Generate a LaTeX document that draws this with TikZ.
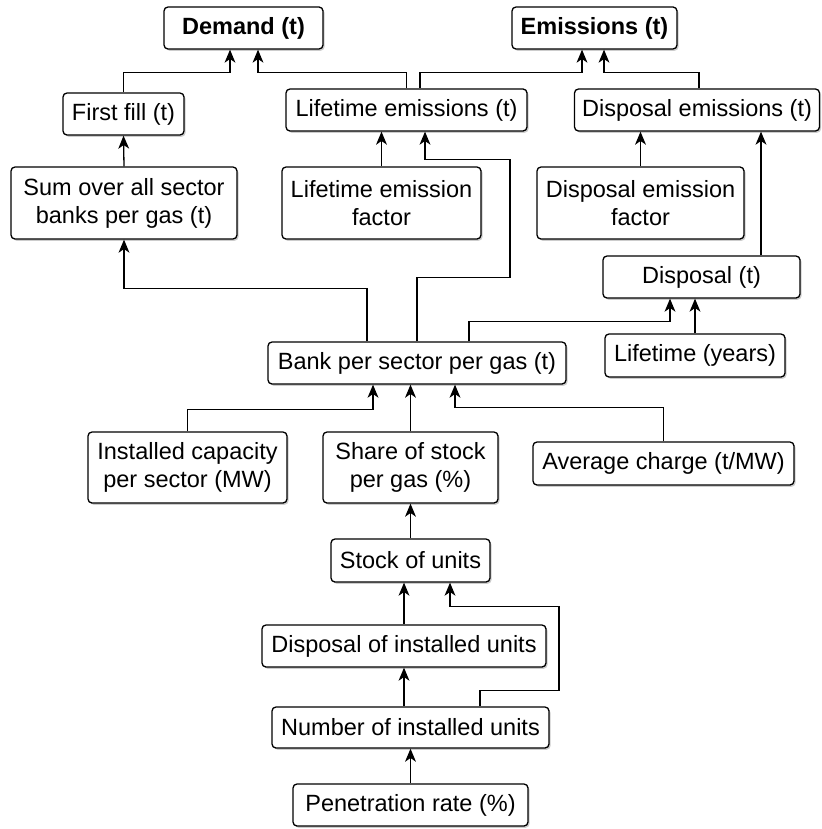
\documentclass[tikz,border=0pt]{standalone}
\usepackage{fontspec}
\setmainfont{Liberation Sans}
\usetikzlibrary{positioning,arrows.meta,shadows}
\tikzset{
  block/.style={rectangle, draw=black, fill=white, rounded corners=2pt, line width=0.65pt,
                drop shadow={shadow xshift=0.8pt, shadow yshift=-0.9pt, opacity=0.2, fill=black},
                font=\fontsize{11.75pt}{14pt}\selectfont, inner sep=0pt, align=center, minimum height=21pt},
  tall/.style={minimum height=36pt},
  head/.style={block, font=\fontsize{11.75pt}{14pt}\selectfont\bfseries},
  arr/.style={-{Stealth[length=6.5pt, width=5.4pt, inset=1.8pt]}, line width=0.65pt, draw=black},
}

\begin{document}
\begin{tikzpicture}[x=0.5pt, y=-0.5pt]
  \useasboundingbox (0,0) rectangle (821,829);
  % outputs
  \node[head, minimum width=79.5pt] (demand) at (243.5,28) {Demand (t)};
  \node[head, minimum width=82.5pt] (emis) at (594.5,28) {Emissions (t)};
  % second row
  \node[block, minimum width=60.5pt] (firstfill) at (123.5,114) {First fill (t)};
  \node[block, minimum width=120.5pt] (lifeem) at (406.5,110) {Lifetime emissions (t)};
  \node[block, minimum width=122.5pt] (dispem) at (697,110) {Disposal emissions (t)};
  % factors
  \node[block, tall, minimum width=113pt] (sumbank) at (124,203) {Sum over all sector\\banks per gas (t)};
  \node[block, tall, minimum width=99.5pt] (lifefac) at (381.5,203) {Lifetime emission\\factor};
  \node[block, tall, minimum width=103.5pt] (dispfac) at (640.5,203) {Disposal emission\\factor};
  \node[block, minimum width=98.5pt] (disp) at (701.5,277) {Disposal (t)};
  \node[block, minimum width=90pt, minimum height=21.5pt] (lifeyr) at (695,355.5) {Lifetime (years)};
  \node[block, minimum width=149pt] (bank) at (417,363) {Bank per sector per gas (t)};
  % bank inputs
  \node[block, tall, minimum width=99.5pt, minimum height=35.5pt] (instcap) at (187.5,467.5) {Installed capacity\\per sector (MW)};
  \node[block, tall, minimum width=87.5pt, minimum height=35.5pt] (share) at (410.5,467.5) {Share of stock\\per gas (\%)};
  \node[block, minimum width=130.5pt, minimum height=21.5pt] (avgch) at (663.5,463.5) {Average charge (t/MW)};
  % stock chain
  \node[block, minimum width=79.5pt, minimum height=21.5pt] (stock) at (410.5,560.5) {Stock of units};
  \node[block, minimum width=142pt] (dispinst) at (404,646) {Disposal of installed units};
  \node[block, minimum width=138.5pt, minimum height=20.5pt] (number) at (410.5,727.5) {Number of installed units};
  \node[block, minimum width=117.5pt] (pen) at (410.5,805) {Penetration rate (\%)};

  % into demand and emissions
  \draw[arr] (firstfill.north) -- ++(0,-20) -| ([xshift=-6.75pt]demand.south);
  \draw[arr] (lifeem.north) -- ++(0,-16) -| ([xshift=7.25pt]demand.south);
  \draw[arr] ([xshift=6.75pt]lifeem.north) -- ++(0,-16) -| ([xshift=-6.25pt]emis.south);
  \draw[arr] ([xshift=1pt]dispem.north) -- ++(0,-16) -| ([xshift=4.75pt]emis.south);
  % emissions inputs
  \draw[arr] (sumbank.north) -- (firstfill.south);
  \draw[arr] (lifefac.north) -- (lifefac.north |- lifeem.south);
  \draw[arr] (dispfac.north) -- (dispfac.north |- dispem.south);
  \draw[arr] ([xshift=29.75pt]disp.north) -- ([xshift=29.75pt]disp.north |- dispem.south);
  \draw[arr] (lifeyr.north) -- (lifeyr.north |- disp.south);
  % from bank
  \draw[arr] ([xshift=-25pt]bank.north) -- ++(0,-53) -| (sumbank.south);
  \draw[arr] (bank.north) -- ++(0,-64) -- ++(93,0) -- ++(0,-118) -| ([xshift=9.25pt]lifeem.south);
  \draw[arr] ([xshift=26pt]bank.north) -- ++(0,-20) -| ([xshift=-15.75pt]disp.south);
  % into bank
  \draw[arr] (instcap.north) -- ++(0,-22) -| ([xshift=-22pt]bank.south);
  \draw[arr] (share.north) -- (share.north |- bank.south);
  \draw[arr] (avgch.north) -- ++(0,-34) -| ([xshift=19pt]bank.south);
  % stock chain
  \draw[arr] (stock.north) -- (share.south);
  \draw[arr] (dispinst.north) -- (dispinst.north |- stock.south);
  \draw[arr] (dispinst.south |- number.north) -- (dispinst.south);
  \draw[arr] ([xshift=34.75pt]number.north) -- ++(0,-16) -- ++(79,0) -- ++(0,-84) -| ([xshift=19.75pt]stock.south);
  \draw[arr] (pen.north) -- (number.south);
\end{tikzpicture}
\end{document}
